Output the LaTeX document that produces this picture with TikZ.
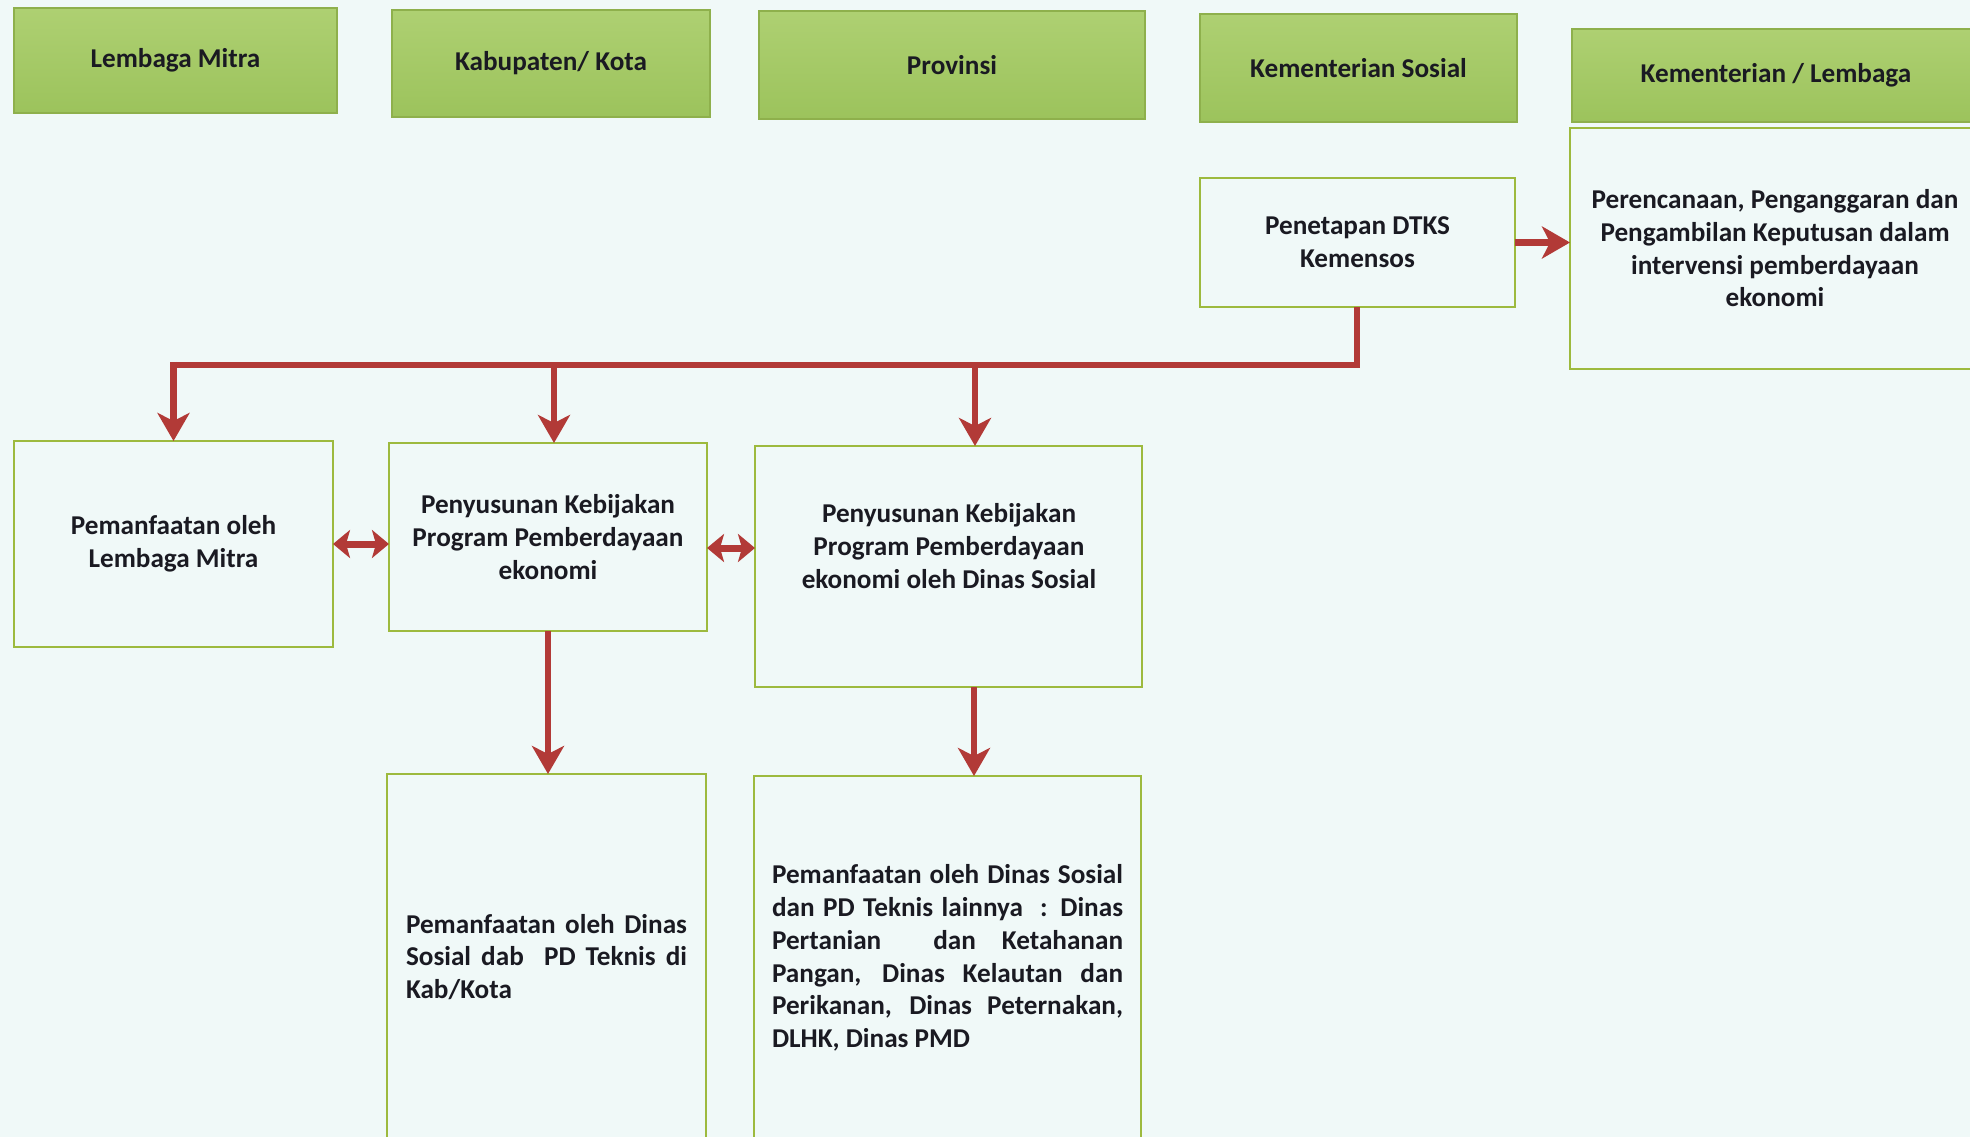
\documentclass[tikz,border=0pt]{standalone}
\usepackage{fontspec}
\setmainfont{Carlito}
\usetikzlibrary{arrows.meta}
\definecolor{bg}{HTML}{F0F9F8}
\definecolor{hdtop}{HTML}{AED072}
\definecolor{hdbot}{HTML}{9CC35C}
\definecolor{hdline}{HTML}{8EB04C}
\definecolor{boxline}{HTML}{9DBA3E}
\definecolor{arr}{HTML}{B23A37}
\definecolor{txt}{HTML}{1A1A22}
\begin{document}
\begin{tikzpicture}[x=1pt,y=-1pt,
  hdr/.style={draw=hdline, line width=1.5pt, top color=hdtop, bottom color=hdbot,
    inner sep=0pt, outer sep=0pt, anchor=north west, text=txt, align=center,
    font=\fontsize{27.2}{32}\selectfont\bfseries},
  bx/.style={draw=boxline, line width=2.5pt, fill=bg, inner sep=0pt, outer sep=0pt,
    anchor=north west, text=txt, align=center,
    font=\fontsize{27.2}{32.7}\selectfont\bfseries},
  txtnode/.style={text=txt, inner sep=0pt, font=\fontsize{27.2}{32.7}\selectfont\bfseries},
  conn/.style={draw=arr, line width=6.5pt, -{Stealth[length=28pt,width=32pt,inset=8pt]}},
  dbl/.style={draw=arr, line width=7pt, {Stealth[length=17pt,width=28pt,inset=4pt]}-{Stealth[length=17pt,width=28pt,inset=4pt]}}
]
\clip (0,0) rectangle (1970,1137);
\fill[bg] (0,0) rectangle (1970,1137);

% headers
\node[hdr, minimum width=323pt, minimum height=105pt] (hA) at (14,8) {Lembaga Mitra};
\node[hdr, minimum width=318pt, minimum height=107pt] (hB) at (392,10) {Kabupaten/ Kota};
\node[hdr, minimum width=386pt, minimum height=108pt] (hC) at (759,11) {Provinsi};
\node[hdr, minimum width=317pt, minimum height=108pt] (hD) at (1200,14) {Kementerian Sosial};
\node[hdr, minimum width=408pt, minimum height=93pt] (hE) at (1572,29) {Kementerian / Lembaga};

% top boxes
\node[bx, minimum width=315pt, minimum height=129pt] (pen) at (1200,178) {Penetapan DTKS\\Kemensos};
\node[bx, minimum width=410pt, minimum height=241pt] (per) at (1570,128)
  {Perencanaan, Penganggaran dan\\Pengambilan Keputusan dalam\\intervensi pemberdayaan\\ekonomi};

% middle row
\node[bx, minimum width=319pt, minimum height=206pt] (a) at (14,441) {Pemanfaatan oleh\\Lembaga Mitra};
\node[bx, minimum width=318pt, minimum height=188pt] (b) at (389,443)
  {Penyusunan Kebijakan\\Program Pemberdayaan\\ekonomi};
\node[bx, minimum width=387pt, minimum height=241pt] (c) at (755,446) {};
\node[txtnode, align=center] (ctext) at (949,546)
  {Penyusunan Kebijakan\\Program Pemberdayaan\\ekonomi oleh Dinas Sosial};

% bottom row
\node[bx, minimum width=319pt, minimum height=380pt] (d) at (387,774) {};
\node[txtnode, align=left] (dtext) at (546.5,957)
  {\makebox[281pt][s]{Pemanfaatan oleh Dinas}\\
   \makebox[281pt][s]{Sosial dab\ \ PD Teknis di}\\
   Kab/Kota\hspace*{\fill}};
\node[bx, minimum width=387pt, minimum height=380pt] (e) at (754,776) {};
\node[txtnode, align=left] (etext) at (947.5,958)
  {\makebox[351pt][s]{Pemanfaatan oleh Dinas Sosial}\\
   \makebox[351pt][s]{dan PD Teknis lainnya\ \ : Dinas}\\
   \makebox[351pt][s]{Pertanian\ \ dan Ketahanan}\\
   \makebox[351pt][s]{Pangan, Dinas Kelautan dan}\\
   \makebox[351pt][s]{Perikanan, Dinas Peternakan,}\\
   \makebox[351pt][l]{DLHK, Dinas PMD}};

% connectors
\coordinate (trunk) at (1357,365);
\coordinate (xb) at (554,365);
\coordinate (xc) at (975,365);
\coordinate (ybc) at (0,548);
\coordinate (xe) at (974,0);

\draw[draw=arr, line width=6.5pt] (pen.south -| trunk) -- (trunk) -- (a.north |- trunk);
\draw[conn] ([yshift=3.25pt]a.north |- trunk) -- (a.north);
\draw[conn] (xb) -- (xb |- b.north);
\draw[conn] (xc) -- (xc |- c.north);
\draw[conn] (pen.east) -- (per.west |- pen.east);
\draw[conn] (b.south) -- (b.south |- d.north);
\draw[conn] (xe |- c.south) -- (xe |- e.north);
\draw[dbl] (a.east) -- (b.west |- a.east);
\draw[dbl] (b.east |- ybc) -- (c.west |- ybc);
\end{tikzpicture}
\end{document}
